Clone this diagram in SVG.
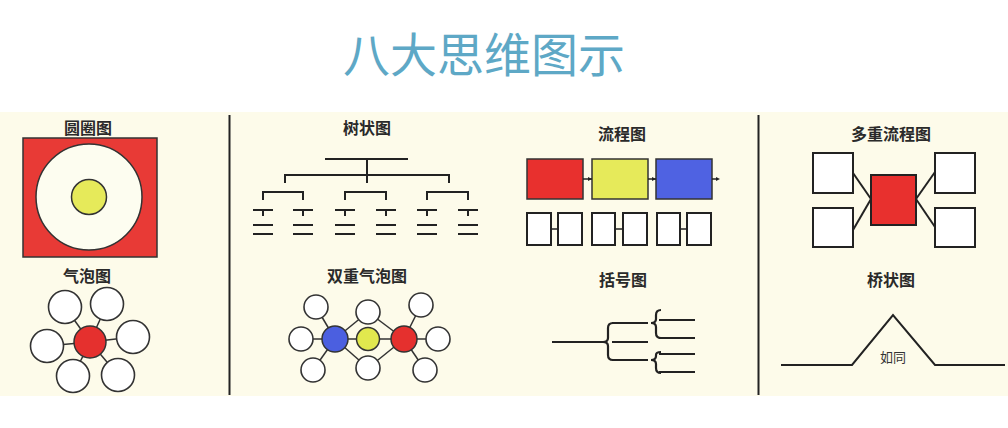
<svg xmlns="http://www.w3.org/2000/svg" width="1008" height="428" viewBox="0 0 1008 428">
<style>
.t{font-family:"Noto Sans CJK SC","Noto Sans CJK JP",sans-serif;font-weight:bold;font-size:16px;fill:#2a2a2a;text-anchor:middle}
.ln{stroke:#222;stroke-width:2;fill:none}
.c{fill:#fff;stroke:#333;stroke-width:1.6}
.bx{fill:#fff;stroke:#222;stroke-width:2}
</style>
<rect width="1008" height="428" fill="#fff"/>
<rect x="0" y="112" width="1008" height="284" fill="#fdfbea"/>
<text x="484" y="72" font-family="'Noto Sans CJK SC',sans-serif" font-size="47" fill="#5ea8c6" text-anchor="middle">八大思维图示</text>
<g id="dividers">
<line x1="229.500" y1="115" x2="229.500" y2="395" stroke="#222" stroke-width="2"/>
<line x1="758.500" y1="115" x2="758.500" y2="395" stroke="#222" stroke-width="2"/>
</g>
<g id="circle-map">
<text class="t" x="88" y="134">圆圈图</text>
<rect x="23" y="138" width="134" height="119" fill="#e83a36" stroke="#333" stroke-width="1.5"/>
<circle cx="89" cy="197" r="53" fill="#fdfdf0" stroke="#333" stroke-width="1.5"/>
<circle cx="89" cy="197" r="17.500" fill="#e6ea5a" stroke="#333" stroke-width="1.5"/>
</g>
<g id="bubble-map">
<text class="t" x="87" y="282">气泡图</text>
<g class="ln" style="stroke:#333;stroke-width:1.5">
<line x1="90" y1="342" x2="65" y2="307"/><line x1="90" y1="342" x2="107" y2="304"/>
<line x1="90" y1="342" x2="133" y2="337"/><line x1="90" y1="342" x2="47" y2="346"/>
<line x1="90" y1="342" x2="73" y2="376"/><line x1="90" y1="342" x2="118" y2="375"/>
</g>
<circle class="c" cx="65" cy="307" r="16.500"/>
<circle class="c" cx="107" cy="304" r="16.500"/>
<circle class="c" cx="133" cy="337" r="16.500"/>
<circle class="c" cx="47" cy="346" r="16.500"/>
<circle class="c" cx="73" cy="376" r="16.500"/>
<circle class="c" cx="118" cy="375" r="16.500"/>
<circle cx="90" cy="342" r="16" fill="#e5302e" stroke="#333" stroke-width="1.5"/>
</g>
<g id="tree-map">
<text class="t" x="367" y="134">树状图</text>
<g class="ln">
<line x1="325" y1="159" x2="408" y2="159"/>
<line x1="367" y1="159" x2="367" y2="183"/>
<path d="M285,183 V175 H449 V183"/>
<path d="M263,200 V192 H303 V200"/>
<path d="M345,200 V192 H386 V200"/>
<path d="M427,200 V192 H468 V200"/>
<path d="M253,210 H273 M263,210 V216 M253,225 H273 M253,234 H273"/>
<path d="M293,210 H313 M303,210 V216 M293,225 H313 M293,234 H313"/>
<path d="M335,210 H355 M345,210 V216 M335,225 H355 M335,234 H355"/>
<path d="M376,210 H396 M386,210 V216 M376,225 H396 M376,234 H396"/>
<path d="M417,210 H437 M427,210 V216 M417,225 H437 M417,234 H437"/>
<path d="M458,210 H478 M468,210 V216 M458,225 H478 M458,234 H478"/>
</g>
</g>
<g id="double-bubble-map">
<text class="t" x="367" y="282">双重气泡图</text>
<g class="ln" style="stroke:#333;stroke-width:1.5">
<line x1="335" y1="339" x2="316" y2="307"/><line x1="335" y1="339" x2="301" y2="339"/><line x1="335" y1="339" x2="313" y2="370"/>
<line x1="404" y1="339" x2="421" y2="305"/><line x1="404" y1="339" x2="438" y2="339"/><line x1="404" y1="339" x2="425" y2="370"/>
<line x1="335" y1="339" x2="404" y2="339"/>
<line x1="335" y1="339" x2="368" y2="312"/><line x1="404" y1="339" x2="368" y2="312"/>
<line x1="335" y1="339" x2="368" y2="368"/><line x1="404" y1="339" x2="368" y2="368"/>
</g>
<circle class="c" cx="316" cy="307" r="12"/>
<circle class="c" cx="301" cy="339" r="12"/>
<circle class="c" cx="313" cy="370" r="12"/>
<circle class="c" cx="368" cy="312" r="12"/>
<circle class="c" cx="368" cy="368" r="12"/>
<circle class="c" cx="421" cy="305" r="12"/>
<circle class="c" cx="438" cy="339" r="12"/>
<circle class="c" cx="425" cy="370" r="12"/>
<circle cx="335" cy="339" r="13" fill="#4b5fe0" stroke="#333" stroke-width="1.5"/>
<circle cx="368" cy="339" r="11.500" fill="#e1e84e" stroke="#333" stroke-width="1.5"/>
<circle cx="404" cy="339" r="13" fill="#e5302e" stroke="#333" stroke-width="1.5"/>
</g>
<g id="flow-map">
<text class="t" x="622" y="140">流程图</text>
<rect x="527" y="159" width="56" height="40" fill="#e8302e" stroke="#333" stroke-width="1.5"/>
<rect x="592" y="159" width="56" height="40" fill="#e6ea5a" stroke="#333" stroke-width="1.5"/>
<rect x="656" y="159" width="56" height="40" fill="#4f62e2" stroke="#333" stroke-width="1.5"/>
<g class="ln" style="stroke-width:1.5">
<line x1="583" y1="179" x2="592" y2="179"/><line x1="648" y1="179" x2="656" y2="179"/><line x1="712" y1="179" x2="718" y2="179"/>
<line x1="551" y1="229" x2="558" y2="229"/><line x1="615" y1="229" x2="623" y2="229"/><line x1="680" y1="229" x2="687" y2="229"/>
</g>
<path d="M588,177 L592,179 L588,181 Z M652,177 L656,179 L652,181 Z M716,177 L720,179 L716,181 Z" fill="#222"/>
<rect class="bx" x="527" y="213" width="24" height="32"/>
<rect class="bx" x="558" y="213" width="24" height="32"/>
<rect class="bx" x="592" y="213" width="23" height="32"/>
<rect class="bx" x="623" y="213" width="24" height="32"/>
<rect class="bx" x="657" y="213" width="23" height="32"/>
<rect class="bx" x="687" y="213" width="24" height="32"/>
</g>
<g id="brace-map">
<text class="t" x="623" y="286">括号图</text>
<g class="ln" style="stroke-width:2.2">
<line x1="552" y1="342" x2="603" y2="342"/>
<path d="M613,323 Q608,323 608,328 L608,338 Q608,342 603,342 Q608,342 608,346 L608,355 Q608,360 613,360"/>
<line x1="612" y1="323" x2="648" y2="323"/>
<line x1="612" y1="342" x2="648" y2="342"/>
<line x1="612" y1="360" x2="648" y2="360"/>
<path d="M661,310 Q656,310 656,315 L656,319 Q656,323 651,323 Q656,323 656,327 L656,333 Q656,338 661,338"/>
<path d="M661,352 Q656,352 656,355 L656,356 Q656,360 651,360 Q656,360 656,364 L656,368 Q656,373 661,373"/>
<line x1="659" y1="320" x2="695" y2="320"/>
<line x1="659" y1="338" x2="695" y2="338"/>
<line x1="659" y1="354" x2="695" y2="354"/>
<line x1="659" y1="372" x2="695" y2="372"/>
</g>
</g>
<g id="multi-flow-map">
<text class="t" x="891" y="140">多重流程图</text>
<g class="ln">
<line x1="853" y1="173" x2="871" y2="199"/><line x1="853" y1="230" x2="871" y2="199"/>
<line x1="916" y1="199" x2="935" y2="172"/><line x1="916" y1="199" x2="935" y2="227"/>
</g>
<rect class="bx" x="813" y="153" width="40" height="40"/>
<rect class="bx" x="813" y="208" width="40" height="39"/>
<rect class="bx" x="935" y="153" width="40" height="40"/>
<rect class="bx" x="935" y="208" width="40" height="39"/>
<rect x="871" y="175" width="45" height="50" fill="#e8302e" stroke="#222" stroke-width="2"/>
</g>
<g id="bridge-map">
<text class="t" x="891" y="286">桥状图</text>
<polyline class="ln" points="781,365 852,365 893,315 935,365 1005,365"/>
<text x="893" y="362" font-family="'Noto Sans CJK SC',sans-serif" font-size="13" fill="#333" text-anchor="middle">如同</text>
</g>
</svg>
